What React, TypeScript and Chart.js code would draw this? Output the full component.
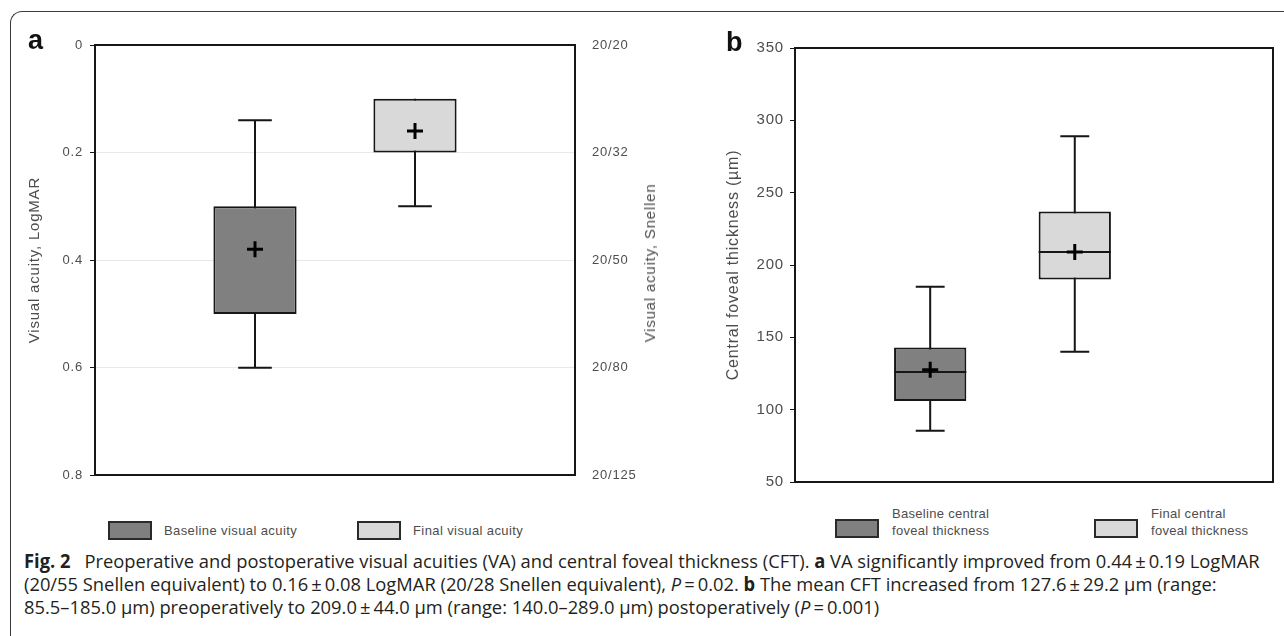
import React, { useEffect, useLayoutEffect, useRef } from 'react';
import { Chart, registerables } from 'chart.js';

Chart.register(...registerables);

// ---------- Panel a: visual acuity (LogMAR, reversed axis) ----------
const VA_GROUPS = ['Baseline visual acuity', 'Final visual acuity'];
const VA_X = [1, 2];
const VA_WHISKER_TOP = [0.14, 0.1];
const VA_Q1 = [0.3, 0.1];
const VA_Q3 = [0.5, 0.2];
const VA_WHISKER_BOTTOM = [0.6, 0.3];
const VA_MEAN = [0.38, 0.16];
const VA_TICKS = [0, 0.2, 0.4, 0.6, 0.8];
const SNELLEN_TICKS = ['20/20', '20/32', '20/50', '20/80', '20/125'];

// ---------- Panel b: central foveal thickness (µm) ----------
const CFT_GROUPS = [
  ['Baseline central', 'foveal thickness'],
  ['Final central', 'foveal thickness'],
];
const CFT_X = [1, 2];
const CFT_MIN = [85.5, 140];
const CFT_Q1 = [106, 190];
const CFT_MEDIAN = [126, 209];
const CFT_Q3 = [143, 237];
const CFT_MAX = [185, 289];
const CFT_MEAN = [127.6, 209];
const CFT_TICKS = [50, 100, 150, 200, 250, 300, 350];

const FILLS = ['#808080', '#d9d9d9'];

const INK = '#161616';
const LABEL = '#4d4d4d';
const FONT = '"Liberation Sans", Arial, Helvetica, sans-serif';

type Pt = { x: number; y: number | null };

// Whisker stems run from lo to hi (hidden under the box); caps are drawn only
// where the whisker has a non-zero length beyond the box.
function whiskerPoints(
  xs: number[], lo: number[], boxLo: number[], boxHi: number[], hi: number[], cap: number
): Pt[] {
  return xs.flatMap((x, i) => {
    const pts: Pt[] = [{ x, y: lo[i] }, { x, y: hi[i] }, { x, y: null }];
    if (lo[i] !== boxLo[i]) pts.push({ x: x - cap, y: lo[i] }, { x: x + cap, y: lo[i] }, { x, y: null });
    if (hi[i] !== boxHi[i]) pts.push({ x: x - cap, y: hi[i] }, { x: x + cap, y: hi[i] }, { x, y: null });
    return pts;
  });
}

function medianPoints(xs: number[], med: number[], half: number): Pt[] {
  return xs.flatMap((x, i) => [
    { x: x - half, y: med[i] }, { x: x + half, y: med[i] }, { x, y: null },
  ]);
}

const setTicks = (vals: number[]) => (s: any) => {
  s.ticks = vals.map((v) => ({ value: v }));
};
const fixWidth = (w: number) => (s: any) => { s.width = w; };
const fixHeight = (h: number) => (s: any) => { s.height = h; };

function frameAxis(position: string, min: number, max: number, tickVals: number[], size: number, reverse = false) {
  const horizontal = position === 'top' || position === 'bottom';
  return {
    type: 'linear',
    position,
    min,
    max,
    reverse,
    offset: false,
    ticks: { display: false },
    grid: { display: true, drawOnChartArea: false, drawTicks: false, offset: false },
    border: { display: true, color: INK, width: 2 },
    afterBuildTicks: setTicks(tickVals),
    afterFit: horizontal ? fixHeight(size) : fixWidth(size),
  };
}

const spacingPlugin = {
  id: 'letterSpacing',
  beforeDraw(chart: any) {
    chart.ctx.letterSpacing = '0.8px';
  },
};

const near = (a: number, b: number) => Math.abs(a - b) < 1e-9;

function configA(): any {
  return {
    type: 'bar',
    data: {
      datasets: [
        {
          type: 'bar',
          label: 'box',
          data: VA_X.map((x, i) => ({ x, y: [VA_Q1[i], VA_Q3[i]] })),
          backgroundColor: FILLS,
          borderColor: INK,
          borderWidth: 2,
          borderSkipped: false,
          barPercentage: 1,
          categoryPercentage: 0.52,
          order: 1,
        },
        {
          type: 'line',
          label: 'whiskers',
          data: whiskerPoints(VA_X, VA_WHISKER_TOP, VA_Q1, VA_Q3, VA_WHISKER_BOTTOM, 0.105),
          borderColor: INK,
          borderWidth: 2,
          pointRadius: 0,
          spanGaps: false,
          tension: 0,
          order: 2,
        },
        {
          type: 'scatter',
          label: 'mean',
          data: VA_X.map((x, i) => ({ x, y: VA_MEAN[i] })),
          pointStyle: 'cross',
          pointRadius: 8,
          pointBorderWidth: 3,
          pointBorderColor: '#000',
          borderColor: '#000',
          order: 0,
        },
      ],
    },
    options: {
      animation: false,
      responsive: false,
      events: [],
      layout: { padding: { top: 45, left: 0, right: 0, bottom: 0 } },
      plugins: { legend: { display: false }, tooltip: { enabled: false } },
      scales: {
        x: frameAxis('bottom', 0, 3, VA_X, 20),
        xTop: frameAxis('top', 0, 3, VA_X, 0),
        y: {
          type: 'linear',
          position: 'left',
          reverse: true,
          min: 0,
          max: 0.8,
          afterBuildTicks: setTicks(VA_TICKS),
          afterFit: fixWidth(95),
          ticks: {
            color: LABEL,
            font: { family: FONT, size: 13 },
            padding: 7,
            callback: (v: number) => String(v),
          },
          grid: {
            color: (ctx: any) => {
              const v = ctx.tick ? ctx.tick.value : 0;
              return near(v, 0) || near(v, 0.8) ? 'rgba(0,0,0,0)' : '#e9e9e9';
            },
            tickColor: INK,
            tickLength: 5,
            lineWidth: 1,
          },
          border: { display: true, color: INK, width: 2 },
          title: {
            display: true,
            text: 'Visual acuity, LogMAR',
            color: LABEL,
            font: { family: FONT, size: 15 },
            padding: { top: 26, bottom: 0 },
          },
        },
        ySnellen: {
          type: 'linear',
          position: 'right',
          reverse: true,
          min: 0,
          max: 0.8,
          afterBuildTicks: setTicks(VA_TICKS),
          afterFit: fixWidth(125),
          ticks: {
            color: LABEL,
            font: { family: FONT, size: 13 },
            padding: 17,
            callback: (v: number) => {
              const i = VA_TICKS.findIndex((t) => near(t, v));
              return i >= 0 ? SNELLEN_TICKS[i] : '';
            },
          },
          grid: { drawOnChartArea: false, drawTicks: false },
          border: { display: true, color: INK, width: 2 },
        },
      },
    },
    plugins: [spacingPlugin],
  };
}

function configB(): any {
  return {
    type: 'bar',
    data: {
      datasets: [
        {
          type: 'bar',
          label: 'box',
          data: CFT_X.map((x, i) => ({ x, y: [CFT_Q1[i], CFT_Q3[i]] })),
          backgroundColor: FILLS,
          borderColor: INK,
          borderWidth: 2,
          borderSkipped: false,
          barPercentage: 1,
          categoryPercentage: 0.5,
          order: 1,
        },
        {
          type: 'line',
          label: 'whiskers',
          data: whiskerPoints(CFT_X, CFT_MIN, CFT_Q1, CFT_Q3, CFT_MAX, 0.1),
          borderColor: INK,
          borderWidth: 2,
          pointRadius: 0,
          spanGaps: false,
          tension: 0,
          order: 2,
        },
        {
          type: 'line',
          label: 'median',
          data: medianPoints(CFT_X, CFT_MEDIAN, 0.25),
          borderColor: INK,
          borderWidth: 2,
          pointRadius: 0,
          spanGaps: false,
          tension: 0,
          order: 0,
        },
        {
          type: 'scatter',
          label: 'mean',
          data: CFT_X.map((x, i) => ({ x, y: CFT_MEAN[i] })),
          pointStyle: 'cross',
          pointRadius: 8,
          pointBorderWidth: 3,
          pointBorderColor: '#000',
          borderColor: '#000',
          order: -1,
        },
      ],
    },
    options: {
      animation: false,
      responsive: false,
      events: [],
      layout: { padding: { top: 48, left: 0, right: 0, bottom: 0 } },
      plugins: { legend: { display: false }, tooltip: { enabled: false } },
      scales: {
        x: frameAxis('bottom', 0.065, 3.371, CFT_X, 18),
        xTop: frameAxis('top', 0.065, 3.371, CFT_X, 0),
        y: {
          type: 'linear',
          position: 'left',
          min: 50,
          max: 350,
          afterBuildTicks: setTicks(CFT_TICKS),
          afterFit: fixWidth(95),
          ticks: {
            color: LABEL,
            font: { family: FONT, size: 15 },
            padding: 6,
            callback: (v: number) => String(v),
          },
          grid: { drawOnChartArea: false, tickColor: INK, tickLength: 5 },
          border: { display: true, color: INK, width: 2 },
          title: {
            display: true,
            text: 'Central foveal thickness (µm)',
            color: LABEL,
            font: { family: FONT, size: 16 },
            padding: { top: 24, bottom: 0 },
          },
        },
        yRight: frameAxis('right', 50, 350, CFT_TICKS, 8),
      },
    },
    plugins: [spacingPlugin],
  };
}

const CAPTION_LEFT = 24;
const CAPTION_WIDTH = 1236;

function LegendBox({ left, top, fill }: { left: number; top: number; fill: string }) {
  return (
    <div
      style={{
        position: 'absolute',
        left,
        top,
        width: 44,
        height: 19,
        boxSizing: 'border-box',
        background: fill,
        border: '2px solid #2a2a2a',
      }}
    />
  );
}

const legendText: React.CSSProperties = {
  position: 'absolute',
  fontFamily: FONT,
  color: LABEL,
  whiteSpace: 'nowrap',
};

export default function App() {
  const aRef = useRef<HTMLCanvasElement>(null);
  const bRef = useRef<HTMLCanvasElement>(null);
  const lineRefs = useRef<Array<HTMLDivElement | null>>([]);

  useEffect(() => {
    const a = new Chart(aRef.current as HTMLCanvasElement, configA());
    const b = new Chart(bRef.current as HTMLCanvasElement, configB());
    return () => {
      a.destroy();
      b.destroy();
    };
  }, []);

  useLayoutEffect(() => {
    const fit = () => {
      const first = lineRefs.current[0];
      if (!first) return;
      const span = first.firstElementChild as HTMLElement;
      const w = span.offsetWidth;
      if (!w) return;
      const k = CAPTION_WIDTH / w;
      lineRefs.current.forEach((d) => {
        if (d) d.style.transform = `scaleX(${k})`;
      });
    };
    fit();
    const fonts = (document as any).fonts;
    if (fonts && fonts.ready) fonts.ready.then(fit);
  }, []);

  const captionLine = (i: number, top: number, content: React.ReactNode) => (
    <div
      key={i}
      ref={(el) => {
        lineRefs.current[i] = el;
      }}
      style={{
        position: 'absolute',
        left: CAPTION_LEFT,
        top,
        whiteSpace: 'nowrap',
        transformOrigin: '0 0',
        lineHeight: '23px',
        height: 23,
      }}
    >
      <span style={{ display: 'inline-block' }}>{content}</span>
    </div>
  );

  const pm = '\u2009±\u2009';
  const eq = '\u2009=\u2009';

  return (
    <div
      style={{
        position: 'fixed',
        left: 0,
        top: 0,
        width: 1284,
        height: 636,
        overflow: 'hidden',
        background: '#fff',
      }}
    >
      <div
        style={{
          position: 'absolute',
          left: 10,
          top: 11,
          width: 1400,
          height: 800,
          borderLeft: '1px solid #3c3c3c',
          borderTop: '1px solid #3c3c3c',
          borderTopLeftRadius: 12,
        }}
      />
      <canvas
        ref={aRef}
        width={700}
        height={500}
        style={{ position: 'absolute', left: 0, top: 0, width: 700, height: 500 }}
      />
      <canvas
        ref={bRef}
        width={584}
        height={500}
        style={{ position: 'absolute', left: 700, top: 0, width: 584, height: 500 }}
      />

      <div style={{ position: 'absolute', left: 28, top: 27, fontFamily: FONT, fontWeight: 700, fontSize: 27, lineHeight: '27px', color: '#111' }}>a</div>
      <div style={{ position: 'absolute', left: 726, top: 29, fontFamily: FONT, fontWeight: 700, fontSize: 27, lineHeight: '27px', color: '#111' }}>b</div>

      <div
        style={{
          position: 'absolute',
          left: 650,
          top: 263,
          transform: 'translate(-50%, -50%) rotate(-90deg)',
          fontFamily: FONT,
          fontSize: 15,
          letterSpacing: '0.8px',
          color: LABEL,
          whiteSpace: 'nowrap',
          lineHeight: '18px',
        }}
      >
        Visual acuity, Snellen
      </div>

      {/* legend a */}
      <LegendBox left={108} top={521} fill={FILLS[0]} />
      <div style={{ ...legendText, left: 164, top: 522, fontSize: 13, letterSpacing: '0.4px', lineHeight: '17px' }}>{VA_GROUPS[0]}</div>
      <LegendBox left={357} top={521} fill={FILLS[1]} />
      <div style={{ ...legendText, left: 413, top: 522, fontSize: 13, letterSpacing: '0.4px', lineHeight: '17px' }}>{VA_GROUPS[1]}</div>

      {/* legend b */}
      <LegendBox left={835} top={519} fill={FILLS[0]} />
      <div style={{ ...legendText, left: 892, top: 505, fontSize: 13, letterSpacing: '0.3px', lineHeight: '17px' }}>
        {CFT_GROUPS[0][0]}
        <br />
        {CFT_GROUPS[0][1]}
      </div>
      <LegendBox left={1094} top={519} fill={FILLS[1]} />
      <div style={{ ...legendText, left: 1151, top: 505, fontSize: 13, letterSpacing: '0.3px', lineHeight: '17px' }}>
        {CFT_GROUPS[1][0]}
        <br />
        {CFT_GROUPS[1][1]}
      </div>

      <div style={{ fontFamily: '"Open Sans", "Noto Sans", sans-serif', fontSize: 19, color: '#231f20' }}>
        {captionLine(
          0,
          550,
          <>
            <b>Fig. 2</b>
            {'\u2002 '}Preoperative and postoperative visual acuities (VA) and central foveal thickness (CFT). <b>a</b> VA significantly
            improved from 0.44{pm}0.19 LogMAR
          </>
        )}
        {captionLine(
          1,
          573,
          <>
            (20/55 Snellen equivalent) to 0.16{pm}0.08 LogMAR (20/28 Snellen equivalent), <i>P</i>
            {eq}0.02. <b>b</b> The mean CFT increased from 127.6{pm}29.2 µm (range:
          </>
        )}
        {captionLine(
          2,
          596,
          <>
            85.5–185.0 µm) preoperatively to 209.0{pm}44.0 µm (range: 140.0–289.0 µm) postoperatively (<i>P</i>
            {eq}0.001)
          </>
        )}
      </div>
    </div>
  );
}
